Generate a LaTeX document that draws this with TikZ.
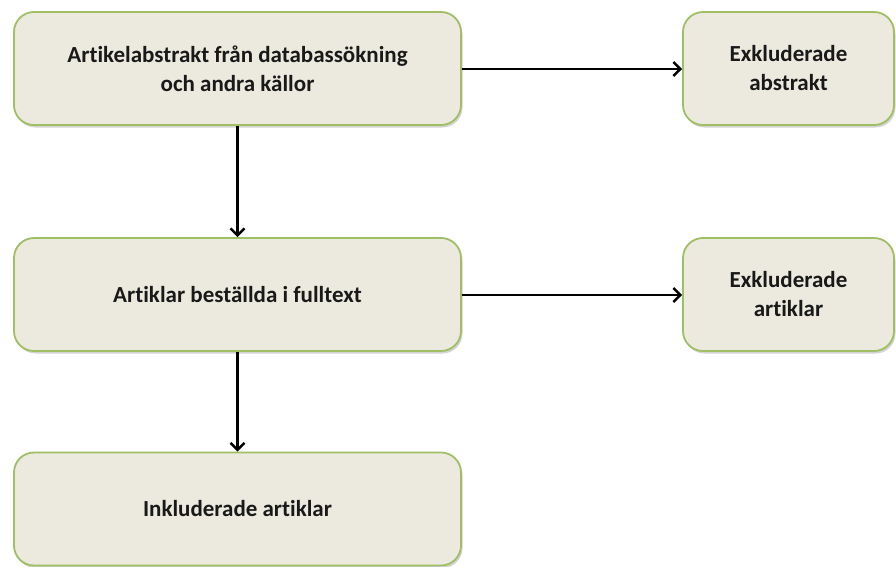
\documentclass[tikz,border=0pt]{standalone}
\usepackage{fontspec}
\setmainfont[Ligatures={NoCommon}]{Carlito}
\usetikzlibrary{arrows.meta,shadows}
\definecolor{boxfill}{RGB}{236,234,223}
\definecolor{boxline}{RGB}{160,190,100}
\begin{document}
\begin{tikzpicture}[x=1pt,y=1pt,
  box/.style={draw=boxline, line width=1.8pt, fill=boxfill, rounded corners=20pt,
    align=center, font=\bfseries\fontsize{23}{29}\selectfont, text=black!90,
    drop shadow={shadow xshift=1.5pt, shadow yshift=-2.5pt, opacity=0.35, fill=black!50},
    inner sep=0pt},
  wide/.style={box, minimum width=447pt, minimum height=113pt},
  narrow/.style={box, minimum width=211pt, minimum height=113pt},
  arr/.style={-{Straight Barb[length=7pt,width=14pt,line width=2.4pt]}, line width=2.6pt, black}]
\useasboundingbox (0,0) rectangle (896,-566);
\node[wide]   (src)  at (237.5,-68.5)  {Artikelabstrakt från databassökning\\och andra källor};
\node[narrow] (exa)  at (788.5,-68.5)  {Exkluderade\\abstrakt};
\node[wide]   (full) at (237.5,-294.5) {Artiklar beställda i fulltext};
\node[narrow] (exb)  at (788.5,-294.5) {Exkluderade\\artiklar};
\node[wide]   (inc)  at (237.5,-509)   {Inkluderade artiklar};
\draw[arr] (src.east |- 0,-69) -- (exa.west |- 0,-69);
\draw[arr] (src) -- (full);
\draw[arr] (full.east |- 0,-295) -- (exb.west |- 0,-295);
\draw[arr] (full) -- (inc);
\end{tikzpicture}
\end{document}
